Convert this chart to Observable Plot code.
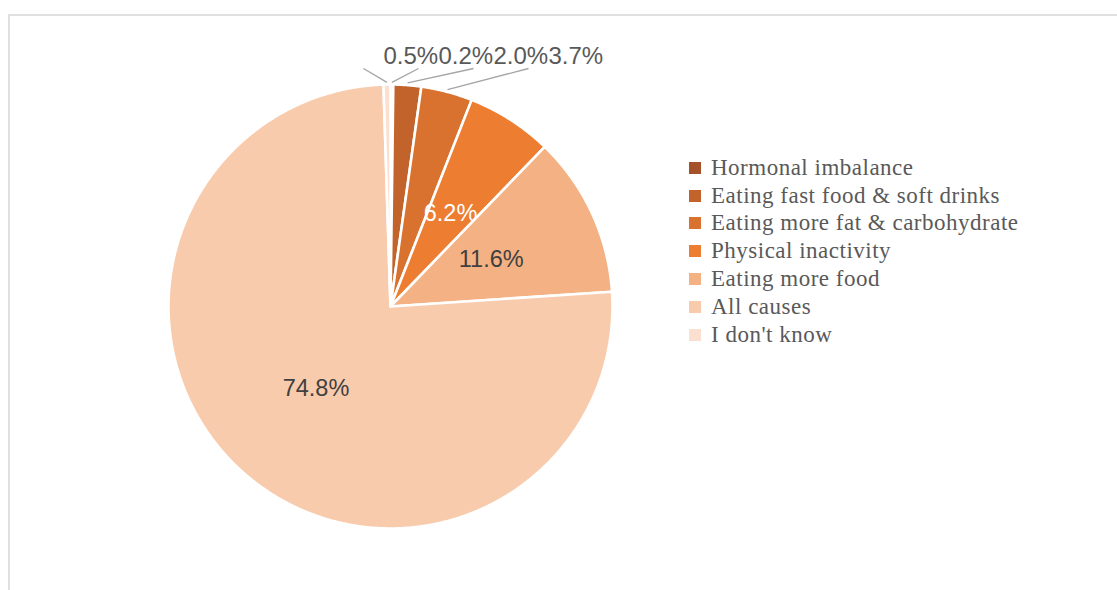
<!DOCTYPE html>
<html>
<head>
<meta charset="utf-8">
<script src="https://cdn.jsdelivr.net/npm/d3@7"></script>
<script src="https://cdn.jsdelivr.net/npm/@observablehq/plot@0.6"></script>
<style>
  html, body { margin: 0; padding: 0; background: #fff; width: 1117px; height: 590px; overflow: hidden; }
  #chart { position: absolute; left: 0; top: 0; }
  #frame { position: absolute; left: 8px; top: 14px; width: 1200px; height: 700px;
           border-top: 2px solid #e0e0e0; border-left: 2px solid #e0e0e0; pointer-events: none; }
  #legend { position: absolute; left: 689px; top: 154px; }
  .lg-swatch { height: 27.8px; padding-bottom: 0 !important; }
  .lg-swatch > svg { margin-right: 10px !important; }
  .lg-swatch-label { letter-spacing: 0.5px; }
</style>
</head>
<body>
<div id="chart"></div>
<div id="legend"></div>
<div id="frame"></div>
<script>
// ---- data ----
const categories = [
  "Hormonal imbalance",
  "Eating fast food & soft drinks",
  "Eating more fat & carbohydrate",
  "Physical inactivity",
  "Eating more food",
  "All causes",
  "I don't know"
];
const values = [0.2, 2.0, 3.7, 6.2, 11.6, 74.8, 0.5];
const palette = ["#a5522a", "#c2632b", "#d9722f", "#ed7d31", "#f4b183", "#f8cbad", "#fbe0d0"];

// ---- layout ----
const W = 1117, H = 590, CX = 390, CY = 306, R = 222;
const ux = px => (px - CX) / R;
const uy = py => (py - CY) / R;

const rows = categories.map((c, i) => ({category: c, value: values[i], label: values[i].toFixed(1) + "%"}));
const arcs = d3.pie().sort(null).value(d => d.value).startAngle(0).endAngle(2 * Math.PI)(rows);
const pt = (a, r = 1) => [r * Math.sin(a), -r * Math.cos(a)];

const slices = arcs.map(a => {
  const ring = [[0, 0]];
  const n = Math.max(2, Math.ceil((a.endAngle - a.startAngle) / 0.004));
  for (let k = 0; k <= n; k++) ring.push(pt(a.startAngle + (a.endAngle - a.startAngle) * k / n));
  ring.push([0, 0]);
  return {...a.data, mid: (a.startAngle + a.endAngle) / 2, geometry: {type: "Polygon", coordinates: [ring]}};
});

const inner = slices.filter(d => d.value >= 5).map(d => {
  const [x, y] = pt(d.mid, 0.5);
  return {...d, x, y};
});
const outerLeft = [383, 438, 493, 548];
const outer = slices.filter(d => d.value < 5)
  .sort((a, b) => Math.sin(a.mid) - Math.sin(b.mid))
  .map((d, i) => {
    const [ex, ey] = pt(d.mid, 1.01);
    return {...d, lx: ux(outerLeft[i]), ly: uy(56), sx: ux(outerLeft[i] - 20), sy: uy(68), ex, ey};
  });

const square = {type: "Polygon", coordinates: [[[-1, -1], [1, -1], [1, 1], [-1, 1], [-1, -1]]]};

const chart = Plot.plot({
  width: W,
  height: H,
  marginLeft: CX - R,
  marginRight: W - CX - R,
  marginTop: CY - R,
  marginBottom: H - CY - R,
  projection: {type: "identity", domain: square, clip: false},
  color: {domain: categories, range: palette},
  style: {background: "transparent"},
  marks: [
    Plot.geo(slices, {geometry: d => d.geometry, fill: d => d.category, stroke: "white", strokeWidth: 2.6}),
    Plot.link(outer, {x1: "sx", y1: "sy", x2: "ex", y2: "ey", stroke: "#a6a6a6", strokeWidth: 1.4}),
    Plot.text(outer, {x: "lx", y: "ly", text: "label", textAnchor: "start", fill: "#595959",
      fontSize: 24, fontFamily: "'Liberation Sans', Arial, sans-serif"}),
    Plot.text(inner.filter(d => d.category !== "Physical inactivity"), {x: "x", y: "y", text: "label", fill: "#404040",
      fontSize: 23.5, fontFamily: "'Liberation Sans', Arial, sans-serif"}),
    Plot.text(inner.filter(d => d.category === "Physical inactivity"), {x: "x", y: "y", text: "label", fill: "white",
      fontSize: 23.5, fontFamily: "'Liberation Sans', Arial, sans-serif"})
  ]
});
document.getElementById("chart").appendChild(chart);

const legend = Plot.legend({
  color: {type: "ordinal", domain: categories, range: palette},
  legend: "swatches",
  columns: 1,
  swatchSize: 12,
  width: 420,
  className: "lg",
  style: {fontFamily: "'Liberation Serif', 'Times New Roman', serif", fontSize: "23px", color: "#595959", marginBottom: "0"}
});
document.getElementById("legend").appendChild(legend);
</script>
</body>
</html>
